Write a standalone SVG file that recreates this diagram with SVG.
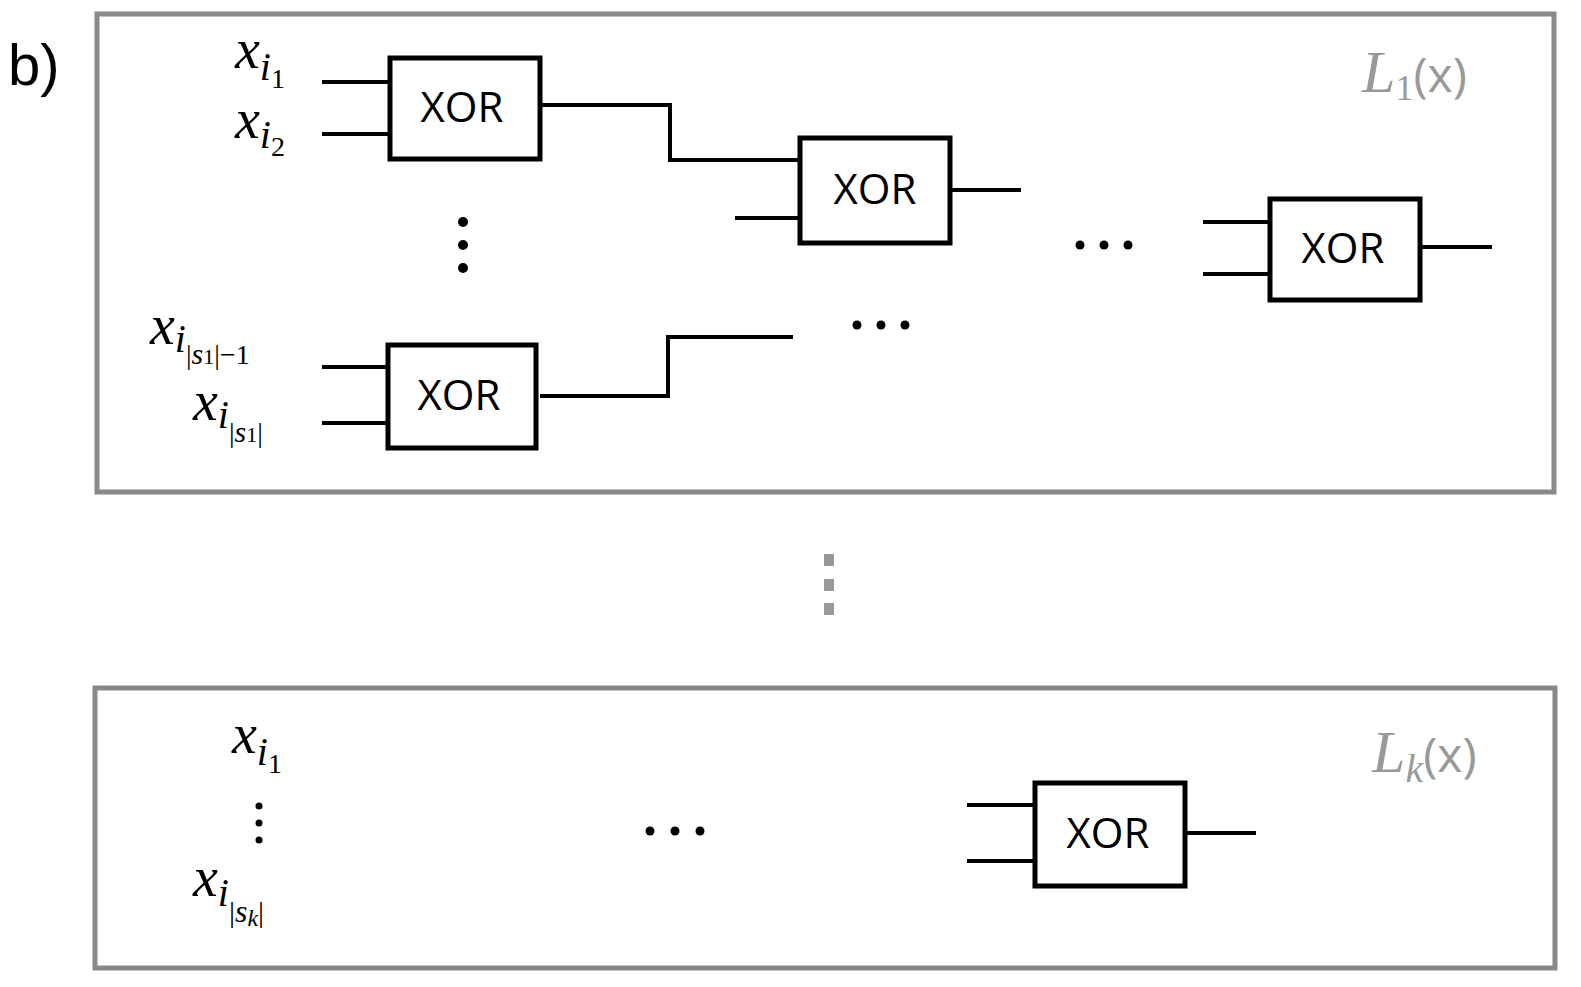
<svg xmlns="http://www.w3.org/2000/svg" width="1581" height="987" viewBox="0 0 1581 987">
<style>
.frame{fill:none;stroke:#898989;stroke-width:5}
.gate{fill:#fff;stroke:#000;stroke-width:5}
.w{fill:none;stroke:#000;stroke-width:4}
.gt{font-family:"Open Sans","Liberation Sans",sans-serif;font-size:42px;text-anchor:middle}
.m{font-family:"Liberation Serif",serif;font-style:italic;fill:#000}
.gl{font-family:"Liberation Serif",serif;fill:#999}
</style>
<rect width="1581" height="987" fill="#fff"/>
<text x="8" y="85" font-family="Liberation Sans,sans-serif" font-size="58">b)</text>
<g id="layer1"><rect class="frame" x="97" y="14" width="1457" height="478"/></g>
<g id="layerk"><rect class="frame" x="95" y="688" width="1460" height="280"/></g>
<g id="labelL1"><text class="gl" x="1362" y="92" font-size="60"><tspan font-style="italic">L</tspan><tspan font-size="36" dy="8">1</tspan><tspan dy="-8" font-family="Open Sans,sans-serif" font-size="48">(x)</tspan></text></g>
<g id="labelLk"><text class="gl" x="1372" y="772" font-size="60"><tspan font-style="italic">L</tspan><tspan font-size="40" dy="10" font-style="italic">k</tspan><tspan dy="-10" font-family="Open Sans,sans-serif" font-size="48">(x)</tspan></text></g>
<g id="connectors">
<path class="w" d="M322 82H390M322 134H390M540 105H670V160H800M735 218H800M950 190H1021M1203 222H1270M1203 274H1270M1420 247H1492M322 367H388M322 423H388M540 396H668V337H793M967 805H1035M967 861H1035M1185 833H1256"/>
</g>
<g id="gate1"><rect class="gate" x="390" y="58" width="150" height="101"/><text class="gt" x="462" y="122">XOR</text></g>
<g id="gate2"><rect class="gate" x="800" y="138" width="150" height="105"/><text class="gt" x="875" y="204">XOR</text></g>
<g id="gate3"><rect class="gate" x="1270" y="199" width="150" height="101"/><text class="gt" x="1343" y="263">XOR</text></g>
<g id="gate4"><rect class="gate" x="388" y="345" width="148" height="103"/><text class="gt" x="459" y="410">XOR</text></g>
<g id="gate5"><rect class="gate" x="1035" y="783" width="150" height="103"/><text class="gt" x="1108" y="848">XOR</text></g>
<g id="dots" fill="#000">
<circle cx="463" cy="222" r="5"/><circle cx="463" cy="245" r="5"/><circle cx="463" cy="268" r="5"/>
<circle cx="1080" cy="245" r="4.5"/><circle cx="1104" cy="245" r="4.5"/><circle cx="1128" cy="245" r="4.5"/>
<circle cx="857" cy="325" r="4.5"/><circle cx="881" cy="325" r="4.5"/><circle cx="905" cy="325" r="4.5"/>
<circle cx="650" cy="831" r="4.5"/><circle cx="675" cy="831" r="4.5"/><circle cx="700" cy="831" r="4.5"/>
<circle cx="259" cy="806" r="3.5"/><circle cx="259" cy="823" r="3.5"/><circle cx="259" cy="840" r="3.5"/>
<g fill="#999"><rect x="824" y="554" width="10" height="12"/><rect x="824" y="579" width="10" height="12"/><rect x="824" y="603" width="10" height="12"/></g>
</g>
<g id="inputs" font-size="56">
<text class="m" x="235" y="68">x<tspan font-size="40" dy="12">i</tspan><tspan font-size="28" dy="8" font-style="normal">1</tspan></text>
<text class="m" x="235" y="138">x<tspan font-size="40" dy="10">i</tspan><tspan font-size="28" dy="8" font-style="normal">2</tspan></text>
<text class="m" x="150" y="344">x<tspan font-size="40" dy="8">i</tspan><tspan font-size="28" dy="12" font-style="normal">|</tspan><tspan font-size="30">s</tspan><tspan font-size="22" font-style="normal">1</tspan><tspan font-size="28" font-style="normal">|−1</tspan></text>
<text class="m" x="193" y="420">x<tspan font-size="40" dy="8">i</tspan><tspan font-size="28" dy="14" font-style="normal">|</tspan><tspan font-size="30">s</tspan><tspan font-size="22" font-style="normal">1</tspan><tspan font-size="28" font-style="normal">|</tspan></text>
<text class="m" x="232" y="753">x<tspan font-size="40" dy="12">i</tspan><tspan font-size="28" dy="8" font-style="normal">1</tspan></text>
<text class="m" x="193" y="896">x<tspan font-size="40" dy="10">i</tspan><tspan font-size="30" dy="16" font-style="normal">|</tspan><tspan font-size="32">s</tspan><tspan font-size="24" dy="4">k</tspan><tspan font-size="30" dy="-4" font-style="normal">|</tspan></text>
</g>
</svg>
